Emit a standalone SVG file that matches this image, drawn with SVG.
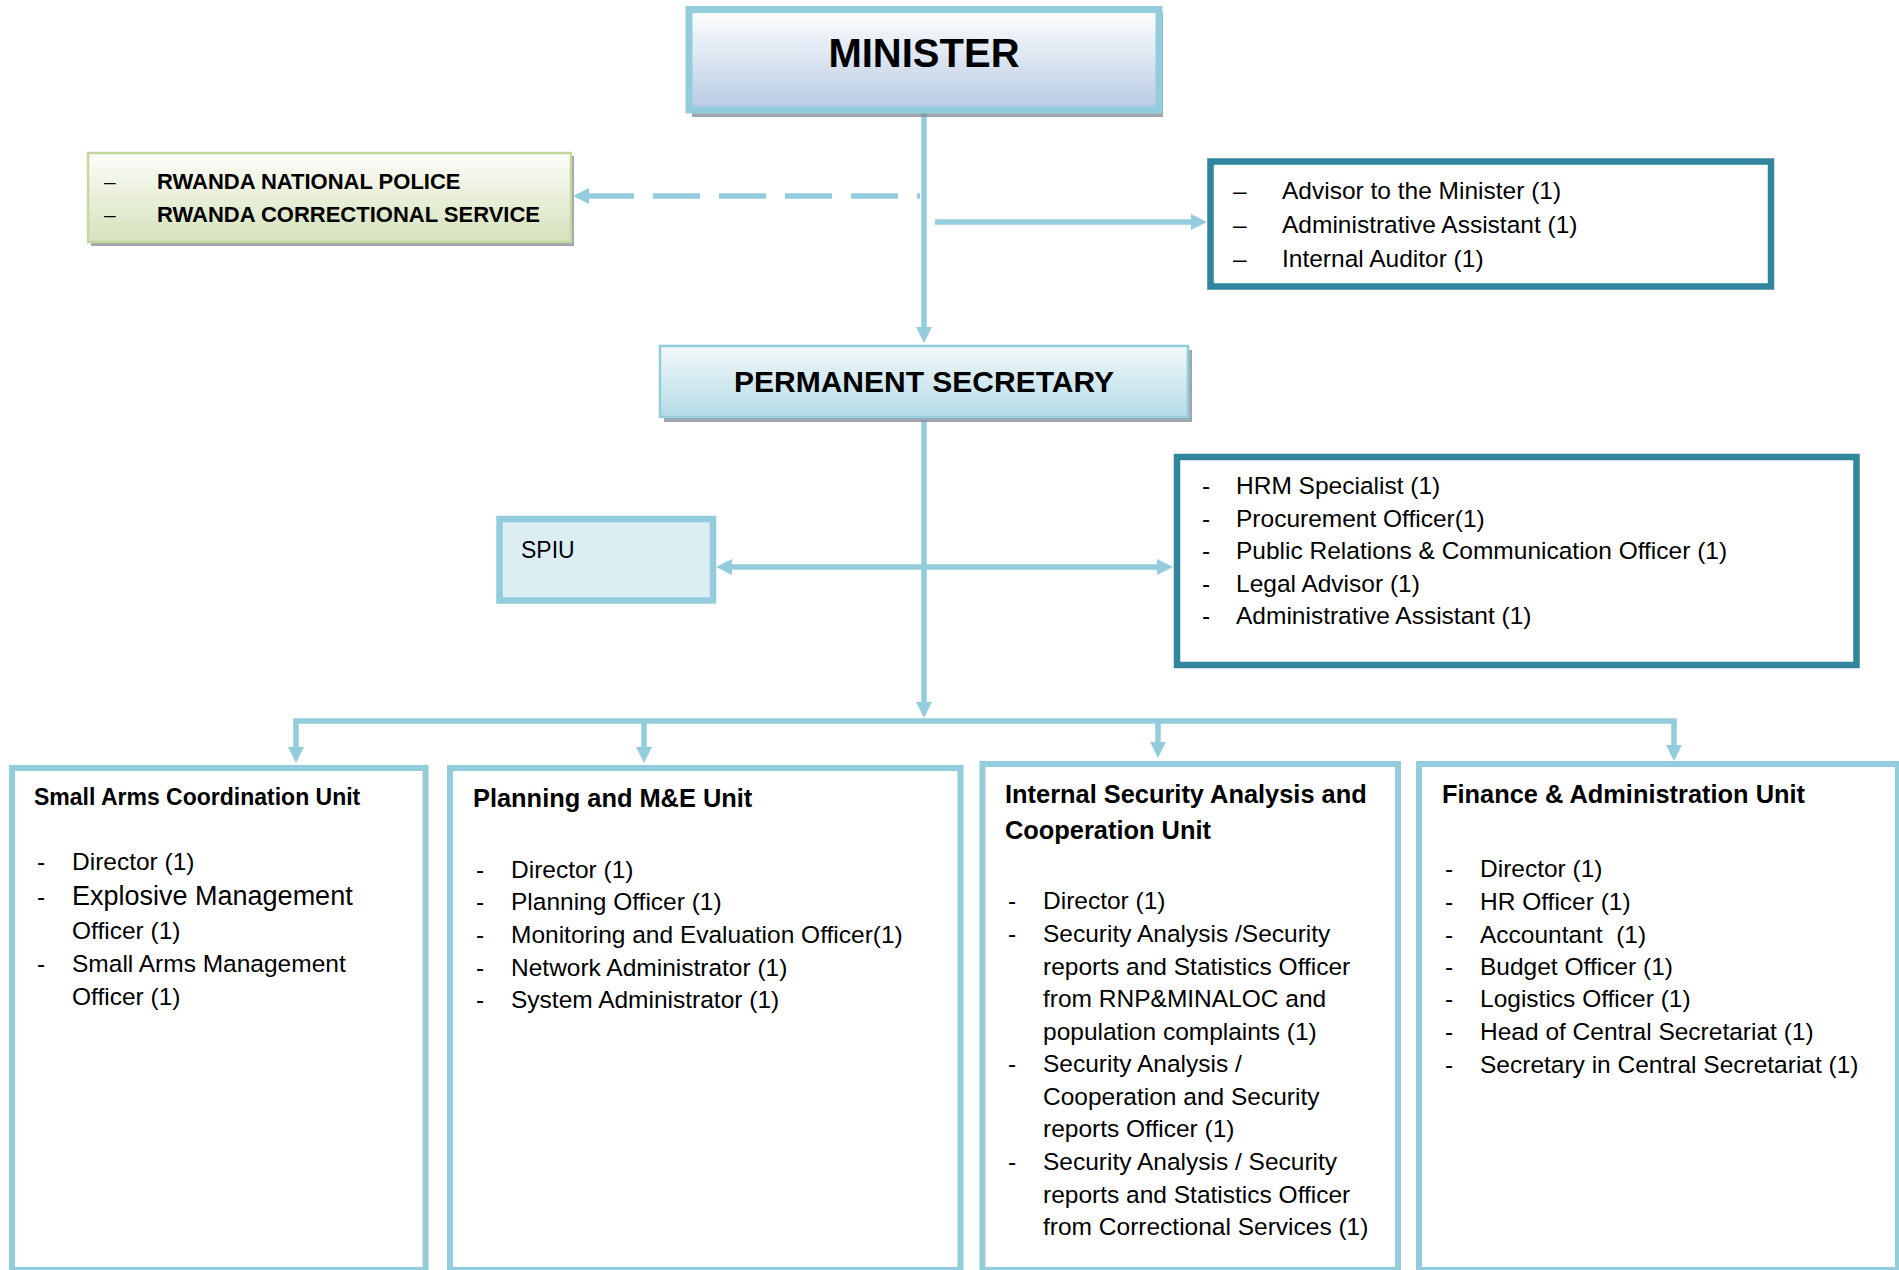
<svg xmlns="http://www.w3.org/2000/svg" width="1899" height="1270" viewBox="0 0 1899 1270">
  <defs>
    <linearGradient id="gMin" x1="0" y1="0" x2="0" y2="1">
      <stop offset="0" stop-color="#ffffff"/>
      <stop offset="1" stop-color="#b7cae3"/>
    </linearGradient>
    <linearGradient id="gPs" x1="0" y1="0" x2="0" y2="1">
      <stop offset="0" stop-color="#f2f9fb"/>
      <stop offset="1" stop-color="#b5dbe6"/>
    </linearGradient>
    <linearGradient id="gGreen" x1="0" y1="0" x2="0" y2="1">
      <stop offset="0" stop-color="#fdfdf9"/>
      <stop offset="1" stop-color="#d5e2bb"/>
    </linearGradient>
    <marker id="arr" viewBox="0 0 16 16" refX="6" refY="8" markerWidth="16" markerHeight="16" markerUnits="userSpaceOnUse" orient="auto-start-reverse">
      <path d="M0,0 L16,8 L0,16 Z" fill="#93cddd"/>
    </marker>
  </defs>
  <style>
    text { font-family: "Liberation Sans", Arial, sans-serif; fill: #000; }
    .body { font-size: 24.5px; }
    .big { font-size: 27px; }
    .hd { font-size: 25.4px; font-weight: bold; }
    .hd1 { font-size: 23px; font-weight: bold; }
    .grn { font-size: 22px; font-weight: bold; }
    .pre { white-space: pre; }
    .shadow { fill: #7d8a96; opacity: 0.75; }
    .unit { fill: #ffffff; stroke: #93cddd; stroke-width: 6; }
    .teal { fill: #ffffff; stroke: #31859c; stroke-width: 6.5; }
    .con { fill: none; stroke: #93cddd; stroke-width: 5.5; }
  </style>

  <!-- connectors -->
  <g id="connectors">
    <path class="con" d="M924,113 V333" marker-end="url(#arr)"/>
    <path class="con" d="M920,196 H583" stroke-dasharray="47 19" stroke-dashoffset="44" marker-end="url(#arr)"/>
    <path class="con" d="M935,222 H1197" marker-end="url(#arr)"/>
    <path class="con" d="M924,420 V708" marker-end="url(#arr)"/>
    <path class="con" d="M726,567 H1163" marker-start="url(#arr)" marker-end="url(#arr)"/>
    <path class="con" d="M293.3,721 H1676.7"/>
    <path class="con" d="M296,721 V753" marker-end="url(#arr)"/>
    <path class="con" d="M644,721 V753" marker-end="url(#arr)"/>
    <path class="con" d="M1158,721 V748" marker-end="url(#arr)"/>
    <path class="con" d="M1674,721 V751" marker-end="url(#arr)"/>
  </g>

  <!-- Minister -->
  <g id="minister">
    <rect class="shadow" x="692" y="13" width="471" height="104"/>
    <rect x="689" y="9.5" width="470" height="100.5" fill="url(#gMin)" stroke="#93cddd" stroke-width="7"/>
    <text x="924" y="67" text-anchor="middle" style="font-size:40px;font-weight:bold">MINISTER</text>
  </g>

  <!-- Affiliated institutions -->
  <g id="institutions">
    <rect class="shadow" x="91" y="156" width="483" height="90" opacity="0.5"/>
    <rect x="88" y="153" width="483" height="89" fill="url(#gGreen)" stroke="#c3d69b" stroke-width="2.5"/>
    <text x="104" y="189" style="font-size:21px">–</text>
    <text x="157" y="189" class="grn">RWANDA NATIONAL POLICE</text>
    <text x="104" y="222" style="font-size:21px">–</text>
    <text x="157" y="222" class="grn">RWANDA CORRECTIONAL SERVICE</text>
  </g>

  <!-- Minister's office -->
  <g id="minister-office">
    <rect class="teal" x="1210.5" y="161.5" width="560.5" height="125"/>
    <text x="1233" y="199" class="body">–</text>
    <text x="1282" y="199" class="body">Advisor to the Minister (1)</text>
    <text x="1233" y="233" class="body">–</text>
    <text x="1282" y="233" class="body">Administrative Assistant (1)</text>
    <text x="1233" y="267" class="body">–</text>
    <text x="1282" y="267" class="body">Internal Auditor (1)</text>
  </g>

  <!-- Permanent Secretary -->
  <g id="permanent-secretary">
    <rect class="shadow" x="664" y="350" width="528" height="72" opacity="0.6"/>
    <rect x="660" y="346" width="528" height="71" fill="url(#gPs)" stroke="#93cddd" stroke-width="2.5"/>
    <text x="924" y="392" text-anchor="middle" style="font-size:30px;font-weight:bold">PERMANENT SECRETARY</text>
  </g>

  <!-- SPIU -->
  <g id="spiu">
    <rect x="499.5" y="519" width="213.5" height="81.5" fill="#dbeef3" stroke="#93cddd" stroke-width="6.5"/>
    <text x="521" y="558" style="font-size:23px">SPIU</text>
  </g>

  <!-- Permanent Secretary's office -->
  <g id="ps-office">
    <rect class="teal" x="1177" y="457" width="679.5" height="208"/>
    <text x="1202" y="494" class="body">-</text>
    <text x="1236" y="494" class="body">HRM Specialist (1)</text>
    <text x="1202" y="527" class="body">-</text>
    <text x="1236" y="527" class="body">Procurement Officer(1)</text>
    <text x="1202" y="559" class="body">-</text>
    <text x="1236" y="559" class="body">Public Relations &amp; Communication Officer (1)</text>
    <text x="1202" y="592" class="body">-</text>
    <text x="1236" y="592" class="body">Legal Advisor (1)</text>
    <text x="1202" y="624" class="body">-</text>
    <text x="1236" y="624" class="body">Administrative Assistant (1)</text>
  </g>

  <!-- Small Arms Coordination Unit -->
  <g id="unit-small-arms">
    <rect class="unit" x="12" y="768" width="413.5" height="502"/>
    <text x="34" y="805" class="hd1">Small Arms Coordination Unit</text>
    <text x="37" y="870" class="body">-</text>
    <text x="72" y="870" class="body">Director (1)</text>
    <text x="37" y="905" class="body">-</text>
    <text x="72" y="905" class="big">Explosive Management</text>
    <text x="72" y="939" class="body">Officer (1)</text>
    <text x="37" y="972" class="body">-</text>
    <text x="72" y="972" class="body">Small Arms Management</text>
    <text x="72" y="1005" class="body">Officer (1)</text>
  </g>

  <!-- Planning and M&E Unit -->
  <g id="unit-planning">
    <rect class="unit" x="450" y="768" width="510.5" height="502"/>
    <text x="473" y="807" class="hd">Planning and M&amp;E Unit</text>
    <text x="476" y="878" class="body">-</text>
    <text x="511" y="878" class="body">Director (1)</text>
    <text x="476" y="910" class="body">-</text>
    <text x="511" y="910" class="body">Planning Officer (1)</text>
    <text x="476" y="943" class="body">-</text>
    <text x="511" y="943" class="body">Monitoring and Evaluation Officer(1)</text>
    <text x="476" y="976" class="body">-</text>
    <text x="511" y="976" class="body">Network Administrator (1)</text>
    <text x="476" y="1008" class="body">-</text>
    <text x="511" y="1008" class="body">System Administrator (1)</text>
  </g>

  <!-- Internal Security Analysis and Cooperation Unit -->
  <g id="unit-security">
    <rect class="unit" x="982.5" y="764" width="415.5" height="506"/>
    <text x="1005" y="803" class="hd">Internal Security Analysis and</text>
    <text x="1005" y="839" class="hd">Cooperation Unit</text>
    <text x="1008" y="909" class="body">-</text>
    <text x="1043" y="909" class="body">Director (1)</text>
    <text x="1008" y="942" class="body">-</text>
    <text x="1043" y="942" class="body">Security Analysis /Security</text>
    <text x="1043" y="975" class="body">reports and Statistics Officer</text>
    <text x="1043" y="1007" class="body">from RNP&amp;MINALOC and</text>
    <text x="1043" y="1040" class="body">population complaints (1)</text>
    <text x="1008" y="1072" class="body">-</text>
    <text x="1043" y="1072" class="body">Security Analysis /</text>
    <text x="1043" y="1105" class="body">Cooperation and Security</text>
    <text x="1043" y="1137" class="body">reports Officer (1)</text>
    <text x="1008" y="1170" class="body">-</text>
    <text x="1043" y="1170" class="body">Security Analysis / Security</text>
    <text x="1043" y="1203" class="body">reports and Statistics Officer</text>
    <text x="1043" y="1235" class="body">from Correctional Services (1)</text>
  </g>

  <!-- Finance & Administration Unit -->
  <g id="unit-finance">
    <rect class="unit" x="1419" y="764" width="479" height="506"/>
    <text x="1442" y="803" class="hd">Finance &amp; Administration Unit</text>
    <text x="1445" y="877" class="body">-</text>
    <text x="1480" y="877" class="body">Director (1)</text>
    <text x="1445" y="910" class="body">-</text>
    <text x="1480" y="910" class="body">HR Officer (1)</text>
    <text x="1445" y="943" class="body">-</text>
    <text x="1480" y="943" class="body pre">Accountant  (1)</text>
    <text x="1445" y="975" class="body">-</text>
    <text x="1480" y="975" class="body">Budget Officer (1)</text>
    <text x="1445" y="1007" class="body">-</text>
    <text x="1480" y="1007" class="body">Logistics Officer (1)</text>
    <text x="1445" y="1040" class="body">-</text>
    <text x="1480" y="1040" class="body">Head of Central Secretariat (1)</text>
    <text x="1445" y="1073" class="body">-</text>
    <text x="1480" y="1073" class="body">Secretary in Central Secretariat (1)</text>
  </g>
</svg>
